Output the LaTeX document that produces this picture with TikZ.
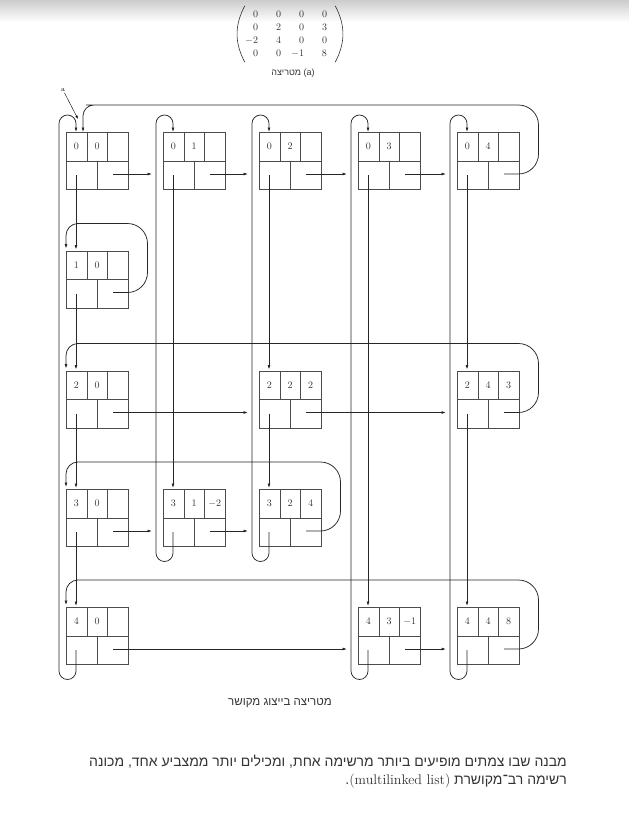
\documentclass[tikz,border=0pt]{standalone}
\usepackage{amsmath}
\usepackage{fontspec}
\usetikzlibrary{arrows.meta,calc}
\newfontfamily\hebfont[Script=Hebrew]{Liberation Sans}
\TeXXeTstate=1

\tikzset{
  lnode/.style={draw=black!70, line width=0.5pt, minimum width=62pt, minimum height=57pt, inner sep=0pt, anchor=north west},
  ldiv/.style={draw=black!70, line width=0.5pt},
  lcell/.style={font=\fontsize{10}{12}\selectfont, inner sep=0pt, text=black!80},
  ptr/.style={->, line width=0.75pt, draw=black!85},
  paren/.style={draw=black!80, line width=0.6pt},
  heb/.style={font=\hebfont\fontsize{#1}{#1}\selectfont, inner sep=0pt, text=black!80},
}

\begin{document}
\begin{tikzpicture}[x=1pt, y=-1pt, >={Latex[length=4.5pt, width=3pt]}]
  \useasboundingbox (0,0) rectangle (629,839);
  \shade[top color=black!20, bottom color=white] (0,0) rectangle (629,22);

  % the matrix and its caption
  \node[font=\fontsize{10}{13}\selectfont, text=black!80, inner sep=2pt] (mat) at (290,34)
    {$\arraycolsep=9pt\begin{array}{cccc} 0&0&0&0\\ 0&2&0&3\\ \llap{$-$}2&4&0&0\\ 0&0&\llap{$-$}1&8 \end{array}$};
  \draw[paren] ([xshift=3pt]mat.north west) to[bend right=28] ([xshift=3pt]mat.south west);
  \draw[paren] ([xshift=-3pt]mat.north east) to[bend left=28] ([xshift=-3pt]mat.south east);
  \node[heb=9] (matcap) at (293,73) {\beginR\beginL(a)\endL{} מטריצה\endR};

  % list nodes: row, column, left, top, value
  \foreach \ri/\ci/\x/\y/\val in {0/0/66/132/{}, 0/1/163/132/{}, 0/2/259/132/{}, 0/3/358/132/{}, 0/4/457/132/{},
      1/0/66/250.5/{}, 2/0/66/370.5/{}, 2/2/259/370.5/2, 2/4/457/370.5/3,
      3/0/66/489/{}, 3/1/163/489/$-2$, 3/2/259/489/4,
      4/0/66/607/{}, 4/3/358/607/$-1$, 4/4/457/607/8} {
    \node[lnode] (n\ri\ci) at (\x,\y) {};
    \draw[ldiv] (n\ri\ci.west) -- (n\ri\ci.east) (n\ri\ci.center) -- (n\ri\ci.south)
      ($(n\ri\ci.north west)!1/3!(n\ri\ci.north east)$) -- ($(n\ri\ci.west)!1/3!(n\ri\ci.east)$)
      ($(n\ri\ci.north west)!2/3!(n\ri\ci.north east)$) -- ($(n\ri\ci.west)!2/3!(n\ri\ci.east)$);
    \node[lcell] (n\ri\ci-i) at (\x+10.3,\y+14.5) {\ri};
    \node[lcell] (n\ri\ci-j) at (\x+31,\y+14.5) {\ci};
    \node[lcell] (n\ri\ci-v) at (\x+51.7,\y+14.5) {\val};
    \coordinate (n\ri\ci-d) at (\x+10,\y+43);
    \coordinate (n\ri\ci-r) at (\x+47,\y+42);
  }

  % straight pointers down the columns and along the rows
  \foreach \a/\b in {00/10, 10/20, 20/30, 30/40, 01/31, 02/22, 22/32, 03/43, 04/24, 24/44}
    \draw[ptr, shorten >=1pt] (n\a-d) -- (n\a-d |- n\b.north);
  \foreach \a/\b in {00/01, 01/02, 02/03, 03/04, 20/22, 22/24, 30/31, 31/32, 40/43, 43/44}
    \draw[ptr, shorten >=11pt] (n\a-r) -- (n\a-r -| n\b.west);

  % last node of a column back to its header
  \foreach \a/\b in {40/00, 31/01, 32/02, 43/03, 44/04}
    \draw[ptr, rounded corners=8.5pt] (n\a-d) -- ($(n\a-d |- n\a.south)+(0,15)$)
      -| ($(n\b.west)+(-7,0)$) |- ($(n\b-d |- n\b.north)+(0,-17)$) -- (n\b-d |- n\b.north);

  % last node of a row back to its header
  \draw[ptr] (n04-r) [rounded corners=20pt] -- ($(n04-r -| n04.east)+(19,0)$) |- ($(n00.north west)+(40,-27)$)
    [rounded corners=11pt] -- ($(n00.north west)+(17,-27)$) -- ($(n00.north west)+(17,0)$);
  \foreach \a/\b in {10/10, 24/20, 32/30, 44/40}
    \draw[ptr, shorten >=2pt] (n\a-r) [rounded corners=20pt] -- ($(n\a-r -| n\a.east)+(19,0)$) |- ($(n\b.north west)+(30,-27)$)
      [rounded corners=12pt] -- ($(n\b.north west)+(0,-27)$) -- (n\b.north west);

  % name of the list
  \node[font=\scriptsize, inner sep=1pt] (alab) at (63,90) {a};
  \coordinate (atip) at (78,119);
  \draw[->, line width=0.4pt, >={Latex[length=3.5pt, width=2.2pt]}] (alab) -- (atip);

  % captions
  \node[heb=11.5] (cap) at (280,703) {\beginR מטריצה בייצוג מקושר\endR};
  \node[heb=14, anchor=east] (noteA) at (567,762) {\beginR מבנה שבו צמתים מופיעים ביותר מרשימה אחת, ומכילים יותר ממצביע אחד, מכונה\endR};
  \node[heb=14, anchor=east] (noteB) at (567,781) {\beginR רשימה רב־מקושרת \beginL{\rmfamily(multilinked list)}\endL.\endR};
\end{tikzpicture}
\end{document}
